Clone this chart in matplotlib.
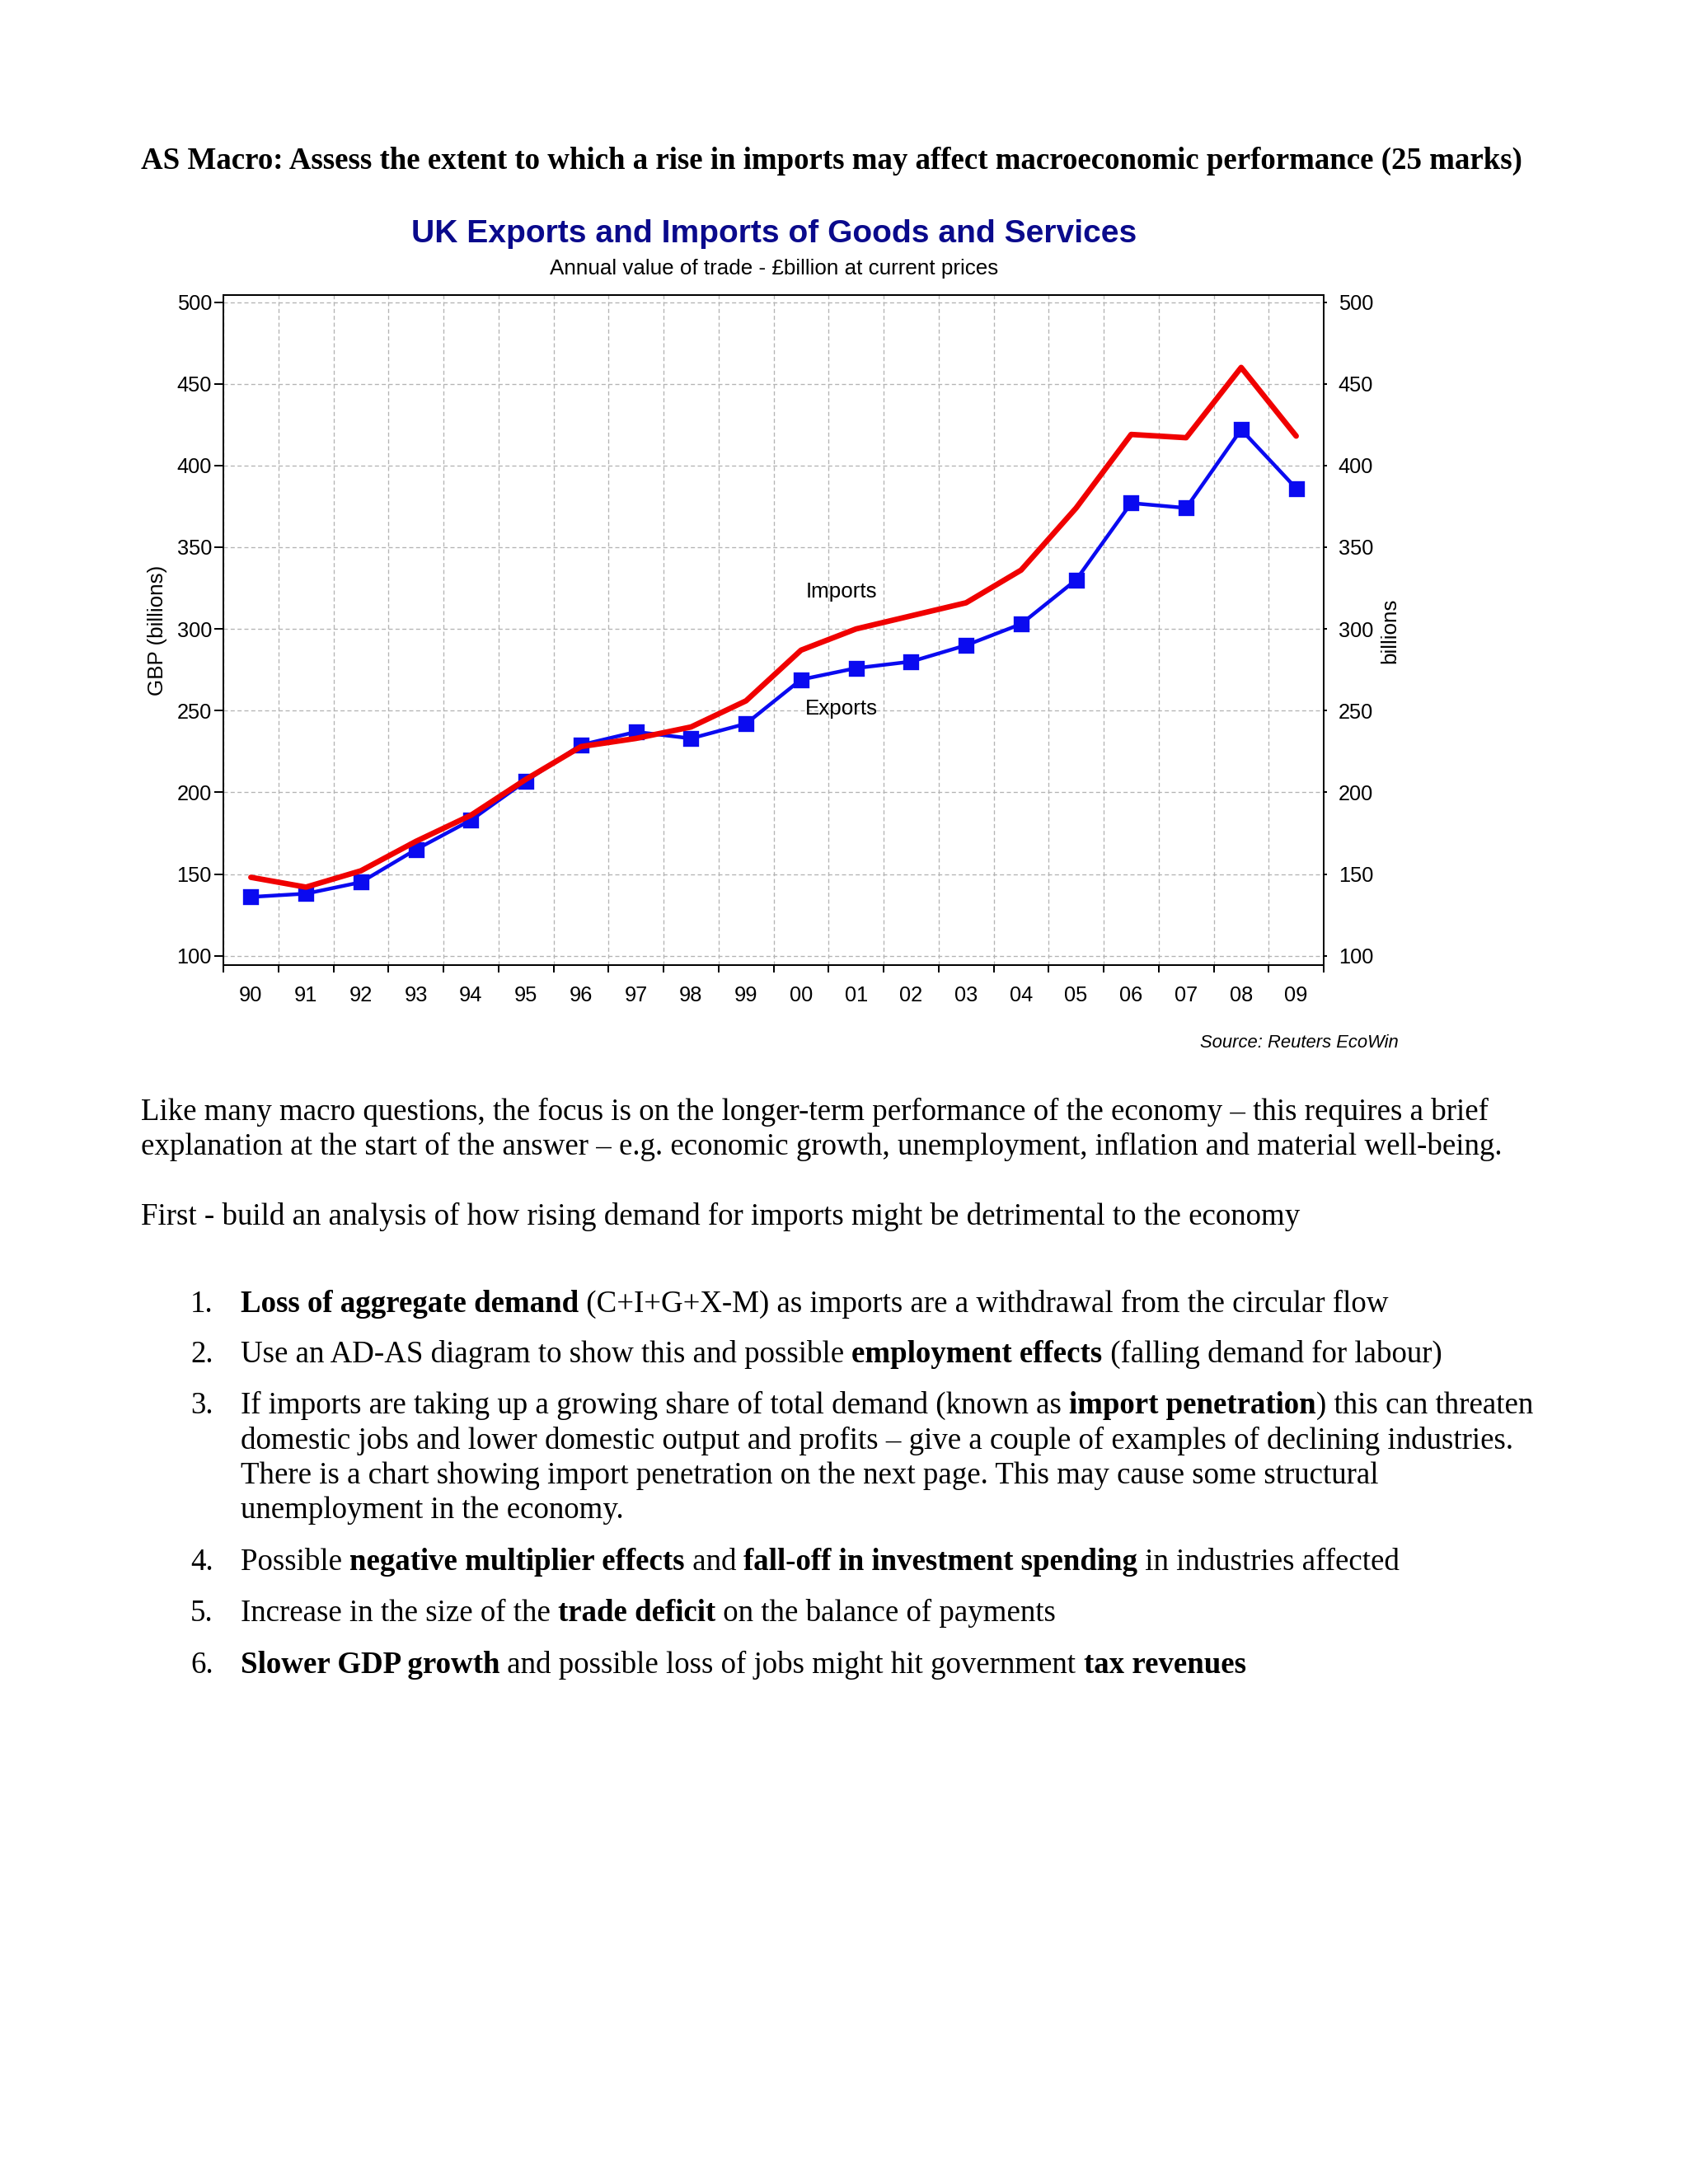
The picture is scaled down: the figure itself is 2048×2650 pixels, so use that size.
import numpy as np
import matplotlib
matplotlib.use("Agg")
import matplotlib.pyplot as plt

# ---------------- data ----------------
year_labels = ['90', '91', '92', '93', '94', '95', '96', '97', '98', '99',
               '00', '01', '02', '03', '04', '05', '06', '07', '08', '09']
exports = [136, 138, 145, 165, 183, 207, 229, 237, 233, 242,
           269, 276, 280, 290, 303, 330, 377, 374, 422, 386]
imports = [148, 142, 152, 170, 186, 208, 228, 233, 240, 256,
           287, 300, 308, 316, 336, 374, 419, 417, 460, 418]
y_ticks = [100, 150, 200, 250, 300, 350, 400, 450, 500]

heading = "AS Macro: Assess the extent to which a rise in imports may affect macroeconomic performance (25 marks)"
chart_title = "UK Exports and Imports of Goods and Services"
chart_subtitle = "Annual value of trade - \u00a3billion at current prices"
source_text = "Source: Reuters EcoWin"

para1 = [
    [("Like many macro questions, the focus is on the longer-term performance of the economy \u2013 this requires a brief", False)],
    [("explanation at the start of the answer \u2013 e.g. economic growth, unemployment, inflation and material well-being.", False)],
]
para2 = [[("First - build an analysis of how rising demand for imports might be detrimental to the economy", False)]]

items = [
    ("1.", [[("Loss of aggregate demand", True), (" (C+I+G+X-M) as imports are a withdrawal from the circular flow", False)]]),
    ("2.", [[("Use an AD-AS diagram to show this and possible ", False), ("employment effects", True), (" (falling demand for labour)", False)]]),
    ("3.", [[("If imports are taking up a growing share of total demand (known as ", False), ("import penetration", True), (") this can threaten", False)],
            [("domestic jobs and lower domestic output and profits \u2013 give a couple of examples of declining industries.", False)],
            [("There is a chart showing import penetration on the next page. This may cause some structural", False)],
            [("unemployment in the economy.", False)]]),
    ("4.", [[("Possible ", False), ("negative multiplier effects", True), (" and ", False), ("fall-off in investment spending", True), (" in industries affected", False)]]),
    ("5.", [[("Increase in the size of the ", False), ("trade deficit", True), (" on the balance of payments", False)]]),
    ("6.", [[("Slower GDP growth", True), (" and possible loss of jobs might hit government ", False), ("tax revenues", True)]]),
]

# ---------------- figure ----------------
W, H, DPI = 2048, 2650, 240
fig = plt.figure(figsize=(W / DPI, H / DPI), dpi=DPI, facecolor='white')

def fx(px):
    return px / W

def fy(py):
    return 1 - py / H

SANS = 'Liberation Sans'
SERIF = 'Liberation Serif'
BODY = 11.07

# axes placement (pixel measurements of reference)
ax_l, ax_r, ax_t, ax_b = 271, 1606, 358, 1171
ax = fig.add_axes([fx(ax_l), fy(ax_b), (ax_r - ax_l) / W, (ax_b - ax_t) / H])

x = np.arange(len(year_labels)) + 0.5
ax.plot(x, exports, color='#0a0af0', lw=1.35, marker='s', ms=4.8, mfc='#0a0af0', mec='#0a0af0',
        solid_joinstyle='round', zorder=3)
ax.plot(x, imports, color='#f00000', lw=2.0, solid_capstyle='round', solid_joinstyle='round', zorder=4)

ax.set_xlim(0, len(year_labels))
ax.set_ylim(94.3, 504.3)
ax.set_yticks(y_ticks)
ax.set_yticklabels([str(v) for v in y_ticks])
ax.set_xticks(np.arange(0, len(year_labels) + 1))
ax.set_xticklabels([])
ax.set_xticks(x, minor=True)
ax.set_xticklabels(year_labels, minor=True)
ax.tick_params(axis='x', which='major', direction='out', length=2.7, width=0.6)
ax.tick_params(axis='x', which='minor', length=0, pad=7.5, labelsize=7.6)
ax.tick_params(axis='y', direction='out', length=3.4, width=0.6, pad=0.8, labelsize=7.6)
for lab in ax.get_xticklabels(minor=True) + ax.get_yticklabels():
    lab.set_family(SANS)

ax.grid(True, which='major', color='#b4b4b4', linestyle=(0, (3.75, 2.5)), linewidth=0.4)
ax.set_axisbelow(True)
for s in ax.spines.values():
    s.set_linewidth(0.6)

ax2 = ax.twinx()
ax2.set_ylim(ax.get_ylim())
ax2.set_yticks(y_ticks)
ax2.set_yticklabels([str(v) for v in y_ticks])
ax2.tick_params(axis='y', direction='out', length=1.3, width=0.6, pad=4.0, labelsize=7.6)
for lab in ax2.get_yticklabels():
    lab.set_family(SANS)
for s in ax2.spines.values():
    s.set_linewidth(0.6)

ax.text(11.23, 322.9, "Imports", ha='center', va='center', fontsize=7.8, family=SANS, zorder=5)
ax.text(11.23, 251.3, "Exports", ha='center', va='center', fontsize=7.8, family=SANS, zorder=5)

fig.text(fx(191), fy(765), "GBP (billions)", rotation=90, ha='center', va='center', fontsize=7.8, family=SANS)
fig.text(fx(1686), fy(765), "billions", rotation=90, ha='center', va='center', fontsize=7.8, family=SANS)

fig.text(fx(939), fy(294), chart_title, ha='center', va='baseline', fontsize=11.7, fontweight='bold',
         family=SANS, color='#0a0a8c')
fig.text(fx(939), fy(333), chart_subtitle, ha='center', va='baseline', fontsize=7.8, family=SANS)
fig.text(fx(1697), fy(1271), source_text, ha='right', va='baseline', fontsize=6.6, style='italic', family=SANS)

# ---------------- document text ----------------
renderer = fig.canvas.get_renderer()

def text_width(s, bold, size=BODY, family=SERIF):
    kw = dict(fontsize=size, family=family, fontweight='bold' if bold else 'normal')
    a = fig.text(0, 0, s + '|', **kw)
    b = fig.text(0, 0, '|', **kw)
    w = a.get_window_extent(renderer).width - b.get_window_extent(renderer).width
    a.remove()
    b.remove()
    return w

def rich_line(x_px, y_px, parts, size=BODY):
    xc = x_px
    for s, bold in parts:
        fig.text(fx(xc), fy(y_px), s, ha='left', va='baseline', fontsize=size, family=SERIF,
                 fontweight='bold' if bold else 'normal')
        xc += text_width(s, bold, size)

dy = 2
rich_line(171, 203 + dy, [(heading, True)])

rich_line(171, 1357 + dy, para1[0])
rich_line(171, 1399 + dy, para1[1])
rich_line(171, 1484 + dy, para2[0])

item_baselines = [[1590], [1651], [1713, 1756, 1798, 1840], [1903], [1965], [2028]]
for (num, lines), ys in zip(items, item_baselines):
    fig.text(fx(231), fy(ys[0] + dy), num, ha='left', va='baseline', fontsize=BODY, family=SERIF)
    for parts, yb in zip(lines, ys):
        rich_line(292, yb + dy, parts)

fig.savefig('out.png', dpi=DPI, facecolor='white')
